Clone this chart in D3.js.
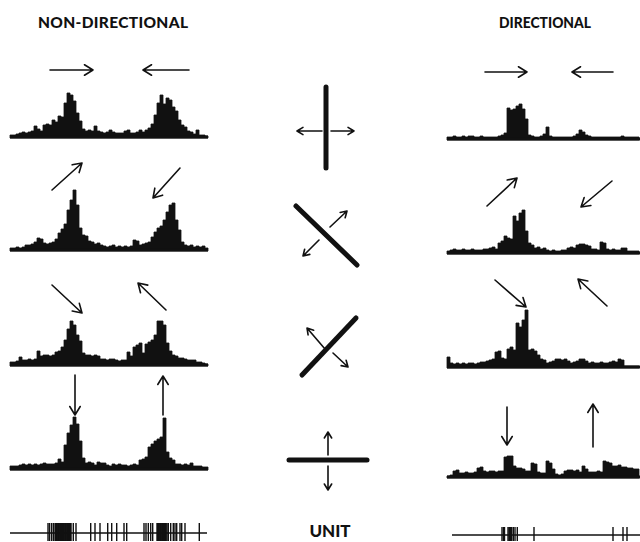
<!DOCTYPE html>
<html><head><meta charset="utf-8">
<script src="https://cdn.jsdelivr.net/npm/d3@7"></script>
<style>html,body{margin:0;padding:0;background:#fff;} svg{display:block}</style>
</head><body><svg id="c" width="640" height="542"></svg>
<script>
// ---------- DATA ----------
const titles = ["NON-DIRECTIONAL", "DIRECTIONAL"];
const unitLabel = "UNIT";

// spike counts per bin (non-directional cell, 66 bins per sweep)
const nonDirRow1 = [2,2,3,4,5,4,5,6,11,8,6,12,13,12,17,15,21,20,34,44,42,36,24,16,8,6,7,6,11,6,5,4,5,7,5,4,4,4,6,7,4,4,5,7,5,7,9,13,22,34,42,33,39,37,30,26,17,12,10,6,5,3,7,2,2,1];
const nonDirRow2 = [2,2,3,2,3,5,5,6,8,12,11,7,6,7,8,11,17,21,26,40,50,60,45,22,15,14,9,8,6,7,5,4,3,4,5,3,4,3,4,3,4,10,9,5,6,7,8,13,18,22,24,30,38,45,47,30,20,8,5,4,5,3,4,3,4,2];
const nonDirRow3 = [3,3,4,8,5,5,6,5,6,14,9,10,10,9,10,13,14,18,25,36,44,40,30,24,12,10,10,9,10,9,6,6,5,6,6,5,4,5,5,13,9,18,20,22,12,21,23,25,30,44,44,40,22,14,10,9,7,7,6,5,5,5,3,3,2,1];
const nonDirRow4 = [3,3,3,4,5,4,5,4,5,4,5,6,5,5,5,6,10,7,24,36,44,52,45,28,11,6,7,6,4,7,6,6,4,3,5,4,5,4,4,3,4,5,4,9,10,12,22,25,28,30,32,51,17,11,9,5,5,4,5,4,6,3,3,3,2,2];

// spike counts per bin (directional cell, 64 bins per sweep)
const dirRow1 = [2,2,3,2,2,3,2,3,3,2,2,3,2,2,2,2,2,3,4,6,31,29,30,33,35,30,20,4,3,2,2,3,5,12,3,2,2,2,2,2,2,2,3,5,9,7,4,3,2,2,2,2,2,2,2,2,2,2,3,2,2,2,2,2];
const dirRow2 = [2,3,4,3,3,4,3,3,4,3,3,3,4,4,5,6,4,10,12,17,15,14,37,32,40,43,22,10,8,5,6,4,5,3,2,3,2,2,3,3,5,6,5,8,9,9,8,7,4,4,3,11,10,4,3,4,3,3,5,5,2,2,2,2];
const dirRow3 = [10,4,3,4,3,4,3,4,4,3,4,5,5,6,7,8,15,16,9,8,18,20,17,44,40,47,57,17,18,16,12,8,7,4,5,6,8,8,7,8,6,4,5,6,8,8,6,4,5,4,4,5,4,4,5,6,5,8,7,1,1,1,1,1];
const dirRow4 = [1,2,6,7,4,4,5,4,4,5,9,10,6,5,6,6,5,6,6,20,21,21,11,9,9,8,6,6,14,13,5,4,4,16,14,8,3,2,3,6,7,7,6,7,5,11,8,5,5,5,6,5,16,15,14,11,11,12,10,10,9,9,8,8];

// unit spike trains (time within sweep, ms)
const unitNonDir = [38,39.5,41.5,43.3,45,45.7,46.4,47.1,47.8,48.5,49.2,49.9,50.6,51.3,52,52.7,53.4,54.1,54.8,55.5,56.2,56.9,57.6,58.3,59,59.7,60.4,61,63.3,66,80.7,85,90,97.7,101.7,106.7,114,116.7,134,136,138.3,140.7,142.7,147,147.7,148.4,149.1,149.8,150.5,151.2,151.9,152.6,153.3,154,154.7,155.4,156.1,157,158.3,160.7,163.3,165,166.7,170,171.7,175,189.3];
const unitDir = [55,56.5,57.5,61,62,62.7,63.6,64.7,66.3,68,70.3,87,166,176,180];

// ---------- LAYOUT ----------
const svg = d3.select("#c");
const INK = "#111";
const FONT = "Lato, 'Open Sans', 'DejaVu Sans', sans-serif";

const leftPanel = {x0: 10, x1: 208, base: [137, 250, 365, 469], lineEnd: 208};
const rightPanel = {x0: 447, x1: 639, base: [139, 253, 367, 477], lineEnd: 640};
const nonDirData = [nonDirRow1, nonDirRow2, nonDirRow3, nonDirRow4];
const dirData = [dirRow1, dirRow2, dirRow3, dirRow4];

const yScale = d3.scaleLinear().domain([0, 60]).range([0, 60]);

function drawHist(panel, data, row) {
  const base = panel.base[row];
  const x = d3.scaleLinear().domain([0, data.length]).range([panel.x0, panel.x1]);
  const pts = data.map((v, i) => [i, v]).concat([[data.length, data[data.length - 1]]]);
  const area = d3.area()
    .x(d => x(d[0]))
    .y0(base + 1)
    .y1(d => base - yScale(d[1]))
    .curve(d3.curveStepAfter);
  svg.append("path").attr("d", area(pts)).attr("fill", INK)
    .attr("stroke", INK).attr("stroke-width", 0.8).attr("stroke-linejoin", "round");
  svg.append("line").attr("x1", panel.x0).attr("x2", panel.lineEnd)
    .attr("y1", base).attr("y2", base).attr("stroke", INK).attr("stroke-width", 3);
}
nonDirData.forEach((d, i) => drawHist(leftPanel, d, i));
dirData.forEach((d, i) => drawHist(rightPanel, d, i));

// arrows
function arrow(x1, y1, x2, y2, head, sw) {
  const a = Math.atan2(y2 - y1, x2 - x1);
  const spread = 0.55;
  const p = d3.path();
  p.moveTo(x1, y1); p.lineTo(x2, y2);
  p.moveTo(x2 - head * Math.cos(a - spread), y2 - head * Math.sin(a - spread));
  p.lineTo(x2, y2);
  p.lineTo(x2 - head * Math.cos(a + spread), y2 - head * Math.sin(a + spread));
  svg.append("path").attr("d", p.toString()).attr("fill", "none")
    .attr("stroke", INK).attr("stroke-width", sw).attr("stroke-linecap", "round").attr("stroke-linejoin", "round");
}
const stimArrows = [
  [50,70,93,70],[189,70,143,70],[485,72,527,72],[613,72,572,72],
  [52,190,82,163],[180,168,153,198],[487,206,517,178],[612,181,581,207],
  [52,285,82,313],[166,310,138,283],[495,280,526,307],[607,306,578,279],
  [75,375,75,415],[163,415,163,376],[507,407,507,445],[593,447,593,404]
];
stimArrows.forEach(a => arrow(a[0], a[1], a[2], a[3], 10, 1.6));

// central bar stimuli
const bars = [[326,87,326,168],[296,206,357,265],[302,375,356,318],[289,460,367,460]];
bars.forEach(b => svg.append("line").attr("x1", b[0]).attr("y1", b[1]).attr("x2", b[2]).attr("y2", b[3])
  .attr("stroke", INK).attr("stroke-width", 5).attr("stroke-linecap", "round"));
const barArrows = [
  [322,131,297,131],[331,131,354,131],
  [330,227,347,211],[319,240,303,256],
  [325,349,307,328],[333,353,348,367],
  [328,455,328,432],[328,466,328,490]
];
barArrows.forEach(a => arrow(a[0], a[1], a[2], a[3], 7, 1.6));

// titles
svg.append("text").attr("x", 113).attr("y", 28).attr("text-anchor", "middle")
  .attr("font-family", FONT).attr("font-weight", 900).attr("font-size", 15.5)
  .attr("textLength", 150).attr("lengthAdjust", "spacing").attr("fill", INK).text(titles[0]);
svg.append("text").attr("x", 545).attr("y", 28).attr("text-anchor", "middle")
  .attr("font-family", FONT).attr("font-weight", 900).attr("font-size", 15.5)
  .attr("textLength", 92).attr("lengthAdjust", "spacingAndGlyphs").attr("fill", INK).text(titles[1]);
svg.append("text").attr("x", 330).attr("y", 537).attr("text-anchor", "middle")
  .attr("font-family", FONT).attr("font-weight", 900).attr("font-size", 17)
  .attr("fill", INK).text(unitLabel);

// unit spike trains
function drawUnit(x0, lineStart, lineEnd, dur, y, top, bot, spikes) {
  const x = d3.scaleLinear().domain([0, dur]).range([x0, x0 + dur]);
  svg.append("line").attr("x1", lineStart).attr("x2", lineEnd).attr("y1", y).attr("y2", y)
    .attr("stroke", INK).attr("stroke-width", 1.6);
  svg.selectAll(null).data(spikes).enter().append("line")
    .attr("x1", d => x(d)).attr("x2", d => x(d)).attr("y1", top).attr("y2", bot)
    .attr("stroke", INK).attr("stroke-width", 1.4);
}
drawUnit(10, 10, 207, 198, 533, 523, 541, unitNonDir);
drawUnit(447, 452, 640, 193, 535, 527, 541, unitDir);
</script></body></html>
